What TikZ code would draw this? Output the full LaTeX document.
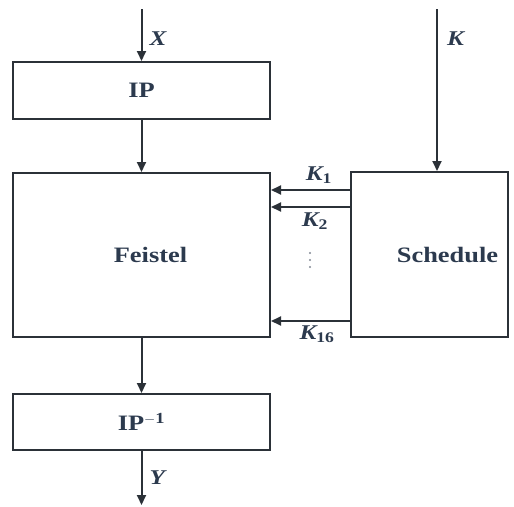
\documentclass[tikz,border=0pt]{standalone}
\usepackage{fontspec}
\setmainfont{Liberation Serif}[FakeStretch=1.2]
\usetikzlibrary{arrows.meta,calc}
\definecolor{inkstroke}{HTML}{2B3138}
\definecolor{inktext}{HTML}{2C3A4E}
\tikzset{
  block/.style={
    rectangle,
    draw=inkstroke,
    line width=2pt,
    inner sep=0pt,
    text=inktext,
    font=\bfseries\fontsize{22}{25}\selectfont
  },
  blocktext/.style={
    text=inktext,
    inner sep=0pt,
    font=\bfseries\fontsize{22}{25}\selectfont
  },
  wire/.style={
    -{Triangle[length=10pt,width=9pt]},
    draw=inkstroke,
    line width=2pt
  },
  keylabel/.style={
    text=inktext,
    inner sep=1pt,
    font=\bfseries\itshape\fontsize{21}{24}\selectfont
  }
}

\begin{document}
\begin{tikzpicture}[x=1pt,y=-1pt]
  \useasboundingbox (0,0) rectangle (514,506);

  \node[block,minimum width=257pt,minimum height=57pt] (ip) at (141.5,90.5) {IP};
  \node[block,minimum width=257pt,minimum height=164pt,
    label={[blocktext,xshift=9pt]center:Feistel}] (feistel) at (141.5,255) {};
  \node[block,minimum width=157pt,minimum height=165pt,
    label={[blocktext,xshift=18pt]center:Schedule}] (sched) at (429.5,254.5) {};
  \node[block,minimum width=257pt,minimum height=56pt] (ipinv) at (141.5,422) {IP\textsuperscript{$-$1}};

  \coordinate (xin) at (141.5,9);
  \coordinate (kin) at (437,9);
  \coordinate (yout) at (141.5,505);

  % Data path.
  \draw[wire] (xin) -- node[keylabel,right=6pt,pos=0.57] {X} (ip.north);
  \draw[wire] (ip.south) -- (feistel.north);
  \draw[wire] (feistel.south) -- (ipinv.north);
  \draw[wire] (ipinv.south) -- node[keylabel,right=6pt,pos=0.5] {Y} (yout);

  % Key path.
  \draw[wire] (kin) -- node[keylabel,right=8pt,pos=0.18] {K} (kin |- sched.north);
  \draw[wire] (sched.west |- 0,190) -- (feistel.east |- 0,190);
  \draw[wire] (sched.west |- 0,207) -- (feistel.east |- 0,207);
  \draw[wire] (sched.west |- 0,321) -- (feistel.east |- 0,321);

  \node[keylabel] (k1) at (319,175) {K\textsubscript{\upshape 1}};
  \node[keylabel] (k2) at (315,221) {K\textsubscript{\upshape 2}};
  \node[keylabel] (k16) at (317,334) {K\textsubscript{\upshape 16}};
  \foreach \dy in {253,260,267}
    \fill[inktext!60] (310,\dy) circle (1.1pt);
\end{tikzpicture}
\end{document}
